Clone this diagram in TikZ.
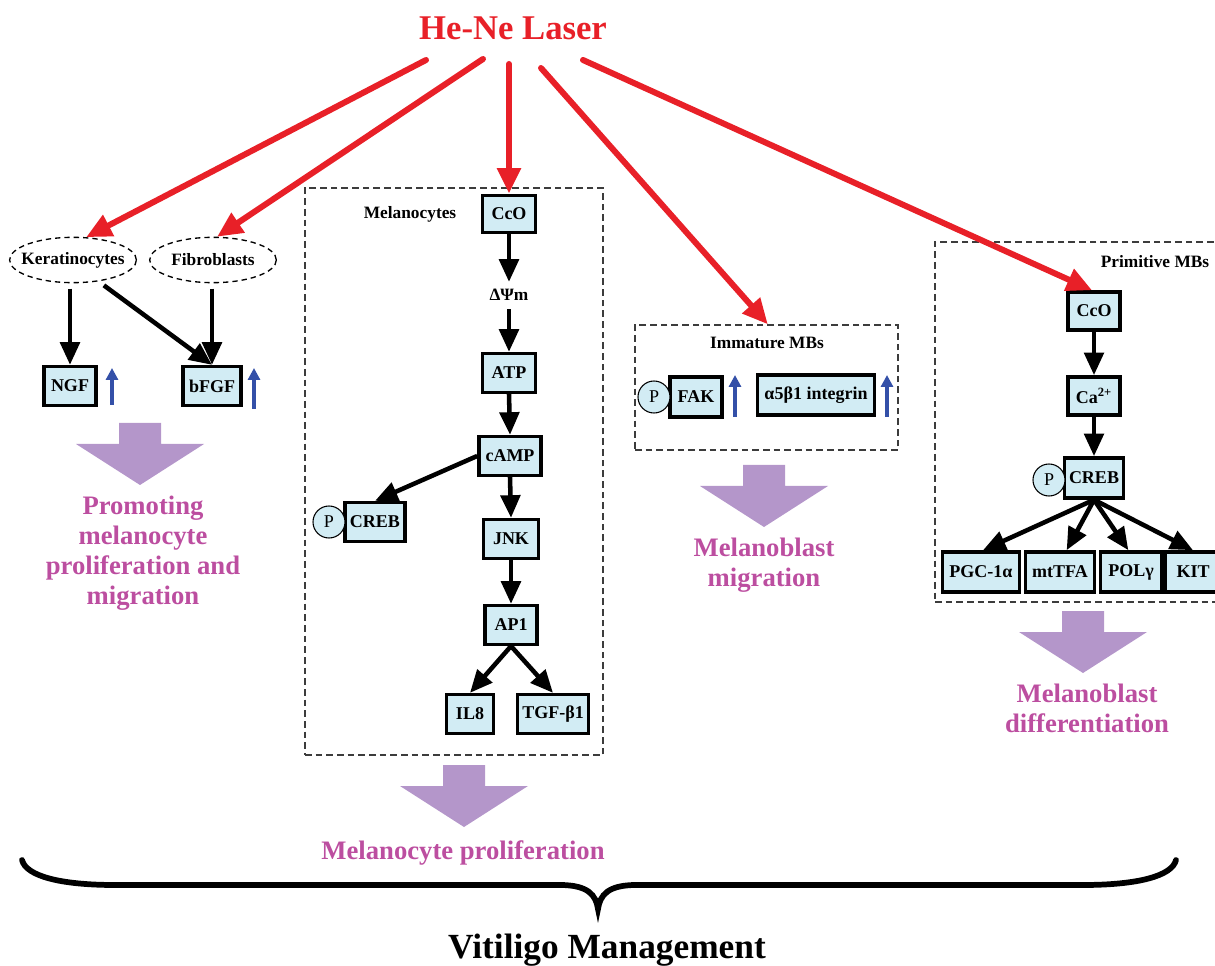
\documentclass[tikz,border=0pt]{standalone}
\usepackage{fontspec}
\setmainfont{Liberation Serif}
\usetikzlibrary{arrows.meta,shapes.geometric}
\definecolor{laserred}{RGB}{232,32,40}
\definecolor{pinktxt}{RGB}{188,78,160}
\definecolor{lavender}{RGB}{180,150,202}
\definecolor{boxblue}{RGB}{210,236,244}
\definecolor{upblue}{RGB}{52,80,168}
\definecolor{dashgray}{RGB}{60,60,60}
\newcommand\bigdown[2]{\fill[lavender] (#1-21,#2) -- (#1+21,#2) -- (#1+21,#2+21) -- (#1+64,#2+21) -- (#1,#2+62) -- (#1-64,#2+21) -- (#1-21,#2+21) -- cycle;}
\begin{document}
\begin{tikzpicture}[x=0.75pt,y=-0.75pt,
  gene/.style={draw=black, line width=2.7pt, fill=boxblue, inner sep=0pt,
    font=\fontsize{13.5}{15}\selectfont\bfseries, minimum height=29pt},
  phos/.style={circle, draw=black, line width=0.8pt, fill=boxblue, minimum size=24pt,
    inner sep=0pt, font=\fontsize{13.5}{15}\selectfont},
  cell/.style={ellipse, draw=black, line width=1pt, dash pattern=on 4pt off 3pt,
    minimum width=95pt, minimum height=34pt, inner xsep=-5pt, inner ysep=0pt,
    font=\fontsize{13}{15}\selectfont\bfseries},
  region/.style={draw=dashgray, line width=1pt, dash pattern=on 5pt off 3pt, inner sep=0pt},
  lbl/.style={font=\fontsize{13}{15}\selectfont\bfseries},
  laser/.style={draw=laserred, line width=4.5pt, line cap=round, -{Triangle[length=19pt,width=17pt]}},
  flow/.style={draw=black, line width=3.4pt, -{Triangle[length=17pt,width=14.5pt]}},
  up/.style={draw=upblue, line width=2.4pt, -{Triangle[length=9pt,width=9pt]}},
  result/.style={text=pinktxt, font=\fontsize{20}{22.5}\selectfont\bfseries, align=center}]
\useasboundingbox (0,0) rectangle (1215,966);

% title
\node[text=laserred, font=\fontsize{26}{30}\selectfont\bfseries] (laser) at (513,28) {He-Ne Laser};
\coordinate (r1) at (426,60);
\coordinate (r2) at (483,59);
\coordinate (r3) at (509,64);
\coordinate (r4) at (541,68);
\coordinate (r5) at (583,60);

% left group
\node[cell] (ker) at (73,260) {Keratinocytes};
\node[cell] (fib) at (213,260) {Fibroblasts};
\node[gene, minimum width=39pt] (NGF) at (70,386) {NGF};
\node[gene, minimum width=43.5pt] (bFGF) at (212,386) {bFGF};
\coordinate (u1a) at (112,405); \coordinate (u1b) at (112,368);
\coordinate (u2a) at (254,409); \coordinate (u2b) at (254,368);
\draw[up] (u1a) -- (u1b);
\draw[up] (u2a) -- (u2b);
\draw[flow, shorten <=4pt] (NGF.north |- ker.south) -- (NGF.north);
\draw[flow, shorten <=5pt] (ker.-40) -- (bFGF.north);
\draw[flow, shorten <=4pt] (bFGF.north |- fib.south) -- (bFGF.north);
\bigdown{140}{423}
\node[result] (res1) at (143,553) {Promoting\\melanocyte\\proliferation and\\migration};

% melanocytes
\node[region, minimum width=223.5pt, minimum height=425.25pt] (mel) at (454,471.5) {};
\node[lbl] (mellbl) at (410,214) {Melanocytes};
\node[gene, minimum width=40pt, minimum height=28pt] (mCcO) at (509,214) {CcO};
\node[lbl] (dpsi) at (509,295) {ΔΨm};
\node[gene, minimum width=40pt] (ATP) at (509,373) {ATP};
\node[gene, minimum width=46.5pt] (cAMP) at (510,456) {cAMP};
\node[gene, minimum width=45pt] (mCREB) at (375,522) {CREB};
\node[phos] (P1) at (329,522) {P};
\node[gene, minimum width=41pt] (JNK) at (511,539) {JNK};
\node[gene, minimum width=39pt] (AP1) at (511,625) {AP1};
\node[gene, minimum width=35pt] (IL8) at (470,714) {IL8};
\node[gene, minimum width=53pt] (TGF) at (553,714) {TGF-β1};
\draw[flow] (mCcO.south) -- ([yshift=2pt]dpsi.north);
\draw[flow, shorten <=3pt] (dpsi.south) -- (ATP.north);
\draw[flow] (ATP.south) -- (cAMP.north);
\draw[flow] (cAMP.west) -- (mCREB.north);
\draw[flow] (cAMP.south) -- (JNK.north);
\draw[flow] (JNK.south) -- (AP1.north);
\draw[flow] (AP1.south) -- (IL8.north);
\draw[flow] (AP1.south) -- (TGF.north);
\bigdown{464}{765}
\node[result] (res2) at (463,853) {Melanocyte proliferation};

% immature MBs
\node[region, minimum width=197.25pt, minimum height=93.75pt] (imm) at (766.5,387.5) {};
\node[lbl] (immlbl) at (767,343) {Immature MBs};
\node[gene, minimum width=39pt, minimum height=30pt] (FAK) at (696,397) {FAK};
\node[phos] (P2) at (654,397) {P};
\node[gene, minimum width=88pt, minimum height=30pt] (itg) at (816,395) {α5β1 integrin};
\coordinate (u3a) at (735,417); \coordinate (u3b) at (735,375);
\coordinate (u4a) at (887,417); \coordinate (u4b) at (887,375);
\draw[up] (u3a) -- (u3b);
\draw[up] (u4a) -- (u4b);
\bigdown{764}{465}
\node[result] (res3) at (764,565) {Melanoblast\\migration};

% primitive MBs
\node[region, minimum width=217.5pt, minimum height=270pt] (prim) at (1080,422) {};
\node[lbl] (primlbl) at (1155,262) {Primitive MBs};
\node[gene, minimum width=39pt, minimum height=28.5pt] (pCcO) at (1094,311) {CcO};
\node[gene, minimum width=39pt, minimum height=28.5pt] (Ca) at (1094,396) {Ca\textsuperscript{2+}};
\node[gene, minimum width=44pt, minimum height=30pt] (pCREB) at (1094,478) {CREB};
\node[phos] (P3) at (1049,480) {P};
\node[gene, minimum width=58pt, minimum height=30pt] (PGC) at (981,572) {PGC-1α};
\node[gene, minimum width=52pt, minimum height=30pt] (mtTFA) at (1060,572) {mtTFA};
\node[gene, minimum width=46pt, minimum height=30pt] (POL) at (1131,572) {POLγ};
\node[gene, minimum width=42pt, minimum height=30pt] (KIT) at (1193,572) {KIT};
\draw[flow] (pCcO.south) -- (Ca.north);
\draw[flow] (Ca.south) -- (pCREB.north);
\draw[flow] (pCREB.south) -- ([xshift=1.5pt]PGC.north);
\draw[flow] (pCREB.south) -- ([xshift=5pt]mtTFA.north);
\draw[flow] (pCREB.south) -- ([xshift=-2pt]POL.north);
\draw[flow] (pCREB.south) -- (KIT.north);
\bigdown{1083}{611}
\node[result] (res4) at (1087,708) {Melanoblast\\differentiation};

% laser arrows
\draw[laser] (r1) -- (ker.60);
\draw[laser] (r2) -- (fib.80);
\draw[laser] (r3) -- (mCcO.north);
\draw[laser] (r4) -- ([xshift=1pt]imm.north);
\draw[laser] (r5) -- ([xshift=-1.5pt]pCcO.north);

% brace
\coordinate (bl) at (22,860);
\coordinate (br) at (1176,860);
\coordinate (bt) at (598,909);
\draw[line width=4.3pt, line cap=round] (bl) .. controls (26,876) and (60,885) .. (115,885) -- (560,885) .. controls (588,885) and (596,895) .. (bt)
  .. controls (600,895) and (608,885) .. (636,885) -- (1083,885) .. controls (1138,885) and (1172,876) .. (br);
\node[font=\fontsize{26.5}{30}\selectfont\bfseries, anchor=base] (vit) at (607,958) {Vitiligo Management};
\end{tikzpicture}
\end{document}
